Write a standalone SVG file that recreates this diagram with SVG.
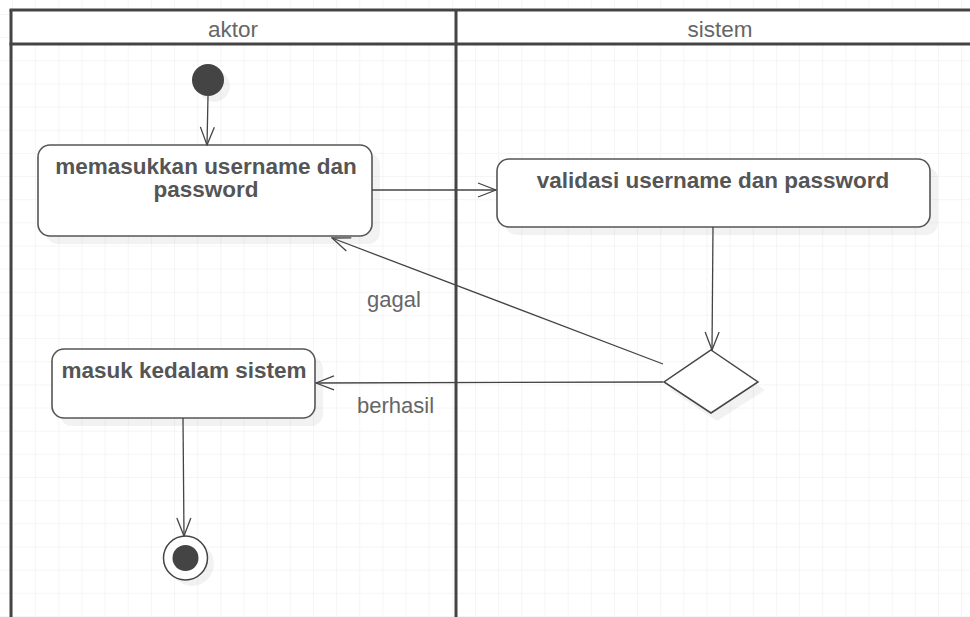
<svg xmlns="http://www.w3.org/2000/svg" width="970" height="617" viewBox="0 0 970 617">
<defs>
<pattern id="grid" x="12" y="14" width="23.15" height="23.15" patternUnits="userSpaceOnUse">
<path d="M0 0H23.15M0 0V23.15" fill="none" stroke="#ececec" stroke-width="1"/>
</pattern>
<marker id="arr" viewBox="0 0 20 20" refX="19" refY="10" markerWidth="20" markerHeight="20" markerUnits="userSpaceOnUse" orient="auto">
<path d="M1 3L19 10L1 17" fill="none" stroke="#444" stroke-width="1.3"/>
</marker>
<style>
.box{fill:#fff;stroke:#555;stroke-width:1.6}
.sh{fill:#000;opacity:0.05}
.t{font-family:"Liberation Sans",Arial,sans-serif;font-weight:bold;font-size:22.5px;fill:#555;text-anchor:middle}
.lbl{font-family:"Liberation Sans",Arial,sans-serif;font-size:22px;fill:#666}
.hdr{font-family:"Liberation Sans",Arial,sans-serif;font-size:22.5px;fill:#666;text-anchor:middle}
.edge{fill:none;stroke:#444;stroke-width:1.3;marker-end:url(#arr)}
.lane{fill:none;stroke:#444;stroke-width:3}
</style>
</defs>
<rect width="970" height="617" fill="#fff"/>
<rect width="970" height="617" fill="url(#grid)"/>
<g id="swimlanes">
<rect x="11" y="10" width="970" height="34" fill="#fff"/>
<line class="lane" x1="9.5" y1="10" x2="970" y2="10"/>
<line class="lane" x1="11" y1="10" x2="11" y2="617"/>
<line class="lane" x1="9.5" y1="44" x2="970" y2="44"/>
<line class="lane" x1="456" y1="10" x2="456" y2="617"/>
<text class="hdr" x="233" y="37">aktor</text>
<text class="hdr" x="720" y="37">sistem</text>
</g>
<g id="start">
<circle cx="214" cy="86" r="16" class="sh"/>
<circle cx="208" cy="80" r="16" fill="#444"/>
</g>
<g id="act1">
<rect x="46" y="153" width="334" height="91" rx="12" class="sh"/>
<rect x="38" y="145" width="334" height="91" rx="12" class="box"/>
<text class="t" x="206" y="174">memasukkan username dan</text>
<text class="t" x="206" y="197">password</text>
</g>
<g id="act2">
<rect x="505" y="167" width="433" height="68" rx="12" class="sh"/>
<rect x="497" y="159" width="433" height="68" rx="12" class="box"/>
<text class="t" x="713" y="188">validasi username dan password</text>
</g>
<g id="decision">
<path d="M717 358L765 390L717 421L670 390Z" class="sh"/>
<path d="M711 350L758 382L711 413L664 382Z" fill="#fff" stroke="#444" stroke-width="1.5"/>
</g>
<g id="act3">
<rect x="60" y="357" width="263" height="69" rx="12" class="sh"/>
<rect x="52" y="349" width="263" height="69" rx="12" class="box"/>
<text class="t" x="184" y="378">masuk kedalam sistem</text>
</g>
<g id="end">
<circle cx="192" cy="564" r="22" class="sh"/>
<circle cx="185.5" cy="558" r="22" fill="#fff" stroke="#444" stroke-width="1.5"/>
<circle cx="185.5" cy="558" r="13" fill="#444"/>
</g>
<g id="connectors">
<line class="edge" x1="208" y1="96" x2="207" y2="145"/>
<line class="edge" x1="372" y1="190" x2="496" y2="190"/>
<line class="edge" x1="713" y1="227" x2="712" y2="350"/>
<line class="edge" x1="663" y1="364" x2="332" y2="238"/>
<line class="edge" x1="663" y1="382" x2="316" y2="383"/>
<line class="edge" x1="183" y1="418" x2="184" y2="536"/>
<text class="lbl" x="367" y="307">gagal</text>
<text class="lbl" x="357" y="413">berhasil</text>
</g>
</svg>
